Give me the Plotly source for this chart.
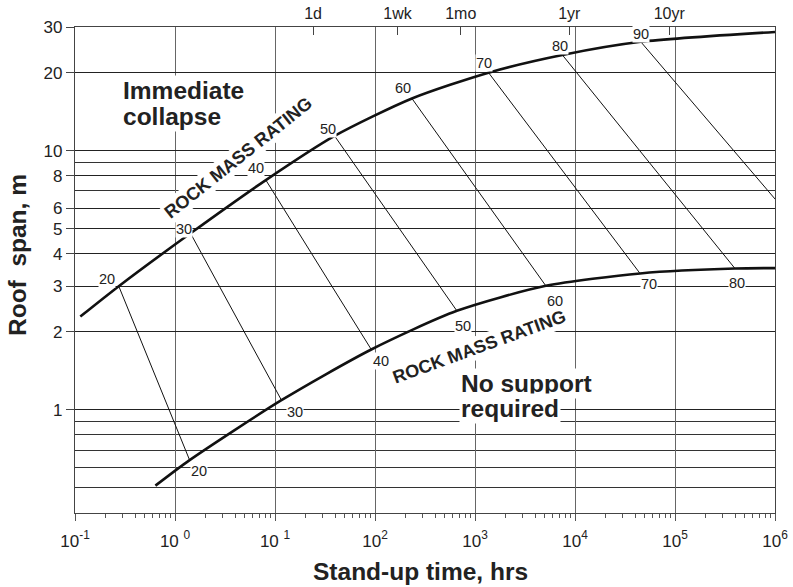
import numpy as np
import plotly.graph_objects as go

# --- data ---
rmr = [20, 30, 40, 50, 60, 70, 80, 90]
# upper boundary (immediate collapse) at each RMR node: stand-up time (hrs), span (m)
up_t = [0.274, 1.43, 8.1, 39.4, 234, 1365, 7480, 45500]
up_span = [3.0, 4.8, 7.7, 11.4, 15.9, 20.0, 23.4, 26.3]
# lower boundary (no support required) at each RMR node
lo_t = [1.40, 11.6, 91.8, 659, 5110, 44700, 398000, 3.9e6]
lo_span = [0.64, 1.09, 1.71, 2.41, 3.01, 3.36, 3.51, 3.52]
# curve end points
up_start_t, up_start_span = 0.113, 2.29
up_end_t, up_end_span = 1e6, 28.7
lo_start_t, lo_start_span = 0.637, 0.51

x_ticks = [0.1, 1, 10, 100, 1e3, 1e4, 1e5, 1e6]
x_ticktext = ["10<sup>-1</sup>", "10 <sup>0</sup>", "10 <sup>1</sup>", "10<sup>2</sup>",
              "10<sup>3</sup>", "10<sup>4</sup>", "10<sup>5</sup>", "10<sup>6</sup>"]
y_ticks = [1, 2, 3, 4, 5, 6, 8, 10, 20, 30]
y_minor = [0.5, 0.6, 0.7, 0.8, 0.9, 7, 9]
time_vals = [24, 168, 720, 8760, 87600]
time_text = ["1d", "1wk", "1mo", "1yr", "10yr"]

FONT = "Liberation Sans, Arial, Helvetica, sans-serif"
INK = "#222"
W, H = 793, 587
L, R, T, B = 75, 18, 27, 74

def px(x):  # pixel -> paper
    return (x - L) / (W - L - R)

def py(y):
    return (H - B - y) / (H - T - B)

fig = go.Figure()

# RMR connector lines
cx, cy = [], []
for a, b, c, d in zip(up_t, up_span, lo_t, lo_span):
    cx += [a, c, None]
    cy += [b, d, None]
fig.add_trace(go.Scatter(x=cx, y=cy, mode="lines", line=dict(color="#111", width=1),
                         hoverinfo="skip", showlegend=False))

# boundary curves
fig.add_trace(go.Scatter(x=[up_start_t] + up_t + [up_end_t],
                         y=[up_start_span] + up_span + [up_end_span],
                         mode="lines", line=dict(color="#111", width=2.6, shape="spline", smoothing=0.7),
                         hoverinfo="skip", showlegend=False))
fig.add_trace(go.Scatter(x=[lo_start_t] + lo_t, y=[lo_start_span] + lo_span,
                         mode="lines", line=dict(color="#111", width=2.6, shape="spline", smoothing=0.7),
                         hoverinfo="skip", showlegend=False))
# dummy trace so the top (time) axis is drawn
fig.add_trace(go.Scatter(x=[1], y=[1], xaxis="x2", mode="markers", marker=dict(opacity=0),
                         hoverinfo="skip", showlegend=False))

minor_x = [m * 10.0 ** e for e in range(-1, 6) for m in range(2, 10)]

fig.update_layout(
    width=W, height=H, margin=dict(l=L, r=R, t=T, b=B, autoexpand=False),
    paper_bgcolor="white", plot_bgcolor="white",
    font=dict(family=FONT, color=INK),
    xaxis=dict(type="log", range=[-1, 6], tickmode="array", tickvals=x_ticks, ticktext=x_ticktext,
               tickfont=dict(size=17, color=INK), ticks="outside", ticklen=7, tickcolor="#555",
               ticklabelstandoff=5,
               showgrid=True, gridcolor="#666", gridwidth=1.2, automargin=False,
               showline=True, linecolor="#444", linewidth=1.3, mirror=True, zeroline=False,
               minor=dict(tickmode="array", tickvals=minor_x, ticks="outside", ticklen=4,
                          tickcolor="#555", showgrid=False),
               fixedrange=True),
    xaxis2=dict(type="log", range=[-1, 6], overlaying="x", side="top", tickmode="array",
                tickvals=time_vals, ticktext=time_text, ticks="inside", ticklen=8, tickcolor="#444",
                tickfont=dict(size=16, color=INK), ticklabelstandoff=4, showgrid=False, showline=False,
                automargin=False, fixedrange=True),
    yaxis=dict(type="log", range=[np.log10(0.4), np.log10(30)], tickmode="array", tickvals=y_ticks,
               tickfont=dict(size=17, color=INK), ticks="outside", ticklen=8, tickcolor="#444",
               showgrid=True, gridcolor="#222", gridwidth=1.2, automargin=False,
               showline=True, linecolor="#444", linewidth=1.3, mirror=True, zeroline=False,
               minor=dict(tickmode="array", tickvals=y_minor, ticks="", showgrid=True,
                          gridcolor="#333", gridwidth=1.2),
               fixedrange=True),
    showlegend=False,
)

BIG = dict(family=FONT, size=24.5, color=INK)

def note(x, y, text, size=24.5, angle=0, xanchor="left"):
    fig.add_annotation(xref="paper", yref="paper", x=px(x), y=py(y), text=f"<b>{text}</b>",
                       showarrow=False, xanchor=xanchor, yanchor="middle", textangle=angle,
                       bgcolor="white", borderpad=1,
                       font=dict(family=FONT, size=size, color=INK))

# region texts
note(121, 91, "Immediate")
note(121, 116, "collapse")
note(459, 383, "No support")
note(459, 408, "required")
note(238, 158, "ROCK MASS RATING", size=18, angle=-38.5, xanchor="center")
note(479, 347, "ROCK MASS RATING", size=18, angle=-20, xanchor="center")

# RMR node labels (offsets in px from the node)
up_off = [(-12, -7), (-7, -4), (-10, -12), (-7, -7), (-9, -10), (-5, -10), (-2, -9), (0, -8)]
lo_off = [(9, 11), (14, 12), (10, 12), (6, 15), (9, 15), (9, 11), (2, 14), None]
for r, t, s, o in zip(rmr, up_t, up_span, up_off):
    fig.add_annotation(x=np.log10(t), y=np.log10(s), text=str(r), showarrow=False,
                       xshift=o[0], yshift=-o[1], bgcolor="white", borderpad=0,
                       font=dict(family=FONT, size=14.5, color=INK))
for r, t, s, o in zip(rmr, lo_t, lo_span, lo_off):
    if o is None:
        continue
    fig.add_annotation(x=np.log10(t), y=np.log10(s), text=str(r), showarrow=False,
                       xshift=o[0], yshift=-o[1], bgcolor="white", borderpad=0,
                       font=dict(family=FONT, size=14.5, color=INK))

# axis titles
fig.add_annotation(xref="paper", yref="paper", x=px(420), y=py(571), text="<b>Stand-up time, hrs</b>",
                   showarrow=False, xanchor="center", yanchor="middle", font=BIG)
fig.add_annotation(xref="paper", yref="paper", x=px(17), y=py(255), text="<b>Roof\u00a0 span, m</b>",
                   showarrow=False, xanchor="center", yanchor="middle", textangle=-90, font=BIG)

fig.write_html("out.html", config={"displayModeBar": False},
               post_script="document.body.style.margin='0';")
